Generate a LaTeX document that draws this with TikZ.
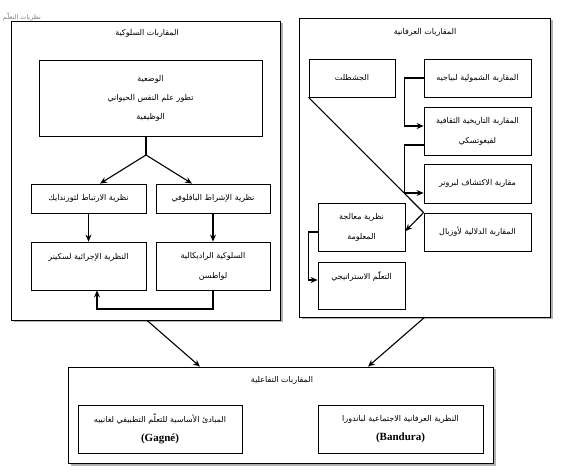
\documentclass[tikz,border=0pt]{standalone}
\usepackage{fontspec}
\newfontfamily\arabicfont[Script=Arabic]{DejaVu Sans}
\newfontfamily\latinfont{Liberation Serif}
\TeXXeTstate=1
\usetikzlibrary{arrows.meta,calc,shadows}
\newcommand{\artxt}[1]{{\arabicfont\beginR #1\endR}}
\newcommand{\lattxt}[1]{{\latinfont\bfseries\fontsize{11}{12}\selectfont #1}}

\begin{document}
\begin{tikzpicture}[x=1pt, y=-1pt,
  bigbox/.style={draw, fill=white, line width=0.8pt,
    drop shadow={shadow xshift=2.5pt, shadow yshift=-2.5pt, fill=gray!60, opacity=1}},
  box/.style={draw, fill=white, line width=0.8pt, align=center, inner sep=0pt,
    font=\fontsize{8}{20}\selectfont},
  ttl/.style={font=\fontsize{8}{9}\selectfont},
  arr/.style={-{Stealth[length=7pt,width=6pt]}, line width=1.1pt}]
\useasboundingbox (0,0) rectangle (574,476);
\node[font=\fontsize{6.5}{8}\selectfont, text=gray] (wm) at (22,17) {\artxt{نظريات التعلّم}};

% behaviourist approaches
\node[bigbox, minimum width=269pt, minimum height=299pt] (beh) at (145.5,170.5) {};
\node[ttl] (behttl) at (147,33) {\artxt{المقاربات السلوكية}};
\node[box, minimum width=223pt, minimum height=76pt, font=\fontsize{8}{19}\selectfont] (posit) at (150.5,98)
  {\artxt{الوضعية}\\ \artxt{تطور علم النفس الحيواني}\\ \artxt{الوظيفية}};
\node[box, minimum width=115pt, minimum height=29pt] (thorn) at (88.5,198.5) {\artxt{نظرية الارتباط لثورندايك}};
\node[box, minimum width=114pt, minimum height=29pt] (pavl) at (213,198.5) {\artxt{نظرية الإشراط البافلوفي}};
\node[box, minimum width=115pt, minimum height=48pt] (skin) at (88.5,266) {\artxt{النظرية الإجرائية لسكينر}\\ \mbox{}};
\node[box, minimum width=114pt, minimum height=48pt] (wats) at (213,266) {\artxt{السلوكية الراديكالية}\\ \artxt{لواطسن}};
\coordinate (split) at (146,155);
\coordinate (back) at (150,309);
\draw[line width=1.1pt] (posit.south -| split) -- (split);
\draw[arr] (split) -- ([xshift=11.5pt]thorn.north);
\draw[arr] (split) -- ([xshift=-21pt]pavl.north);
\draw[arr] (thorn.south) -- (skin.north);
\draw[arr] (pavl.south) -- (wats.north);
\draw[arr] (wats.south) |- (back) -| ([xshift=8.5pt]skin.south);

% cognitive approaches
\node[bigbox, minimum width=251pt, minimum height=299pt] (cog) at (424.5,167.5) {};
\node[ttl] (cogttl) at (425,32) {\artxt{المقاربات العرفانية}};
\node[box, minimum width=86pt, minimum height=38pt] (gest) at (352,78) {\artxt{الجشطلت}};
\node[box, minimum width=107pt, minimum height=38pt] (piag) at (477.5,78) {\artxt{المقاربة الشمولية لبياجيه}};
\node[box, minimum width=107pt, minimum height=48pt] (vygo) at (477.5,131) {\artxt{المقاربة التاريخية الثقافية}\\ \artxt{لفيغوتسكي}};
\node[box, minimum width=107pt, minimum height=39pt] (brun) at (477.5,183.5) {\artxt{مقاربة الاكتشاف لبرونر}};
\node[box, minimum width=107pt, minimum height=38pt] (ausu) at (477.5,232) {\artxt{المقاربة الدلالية لأوزبال}};
\node[box, minimum width=87pt, minimum height=48pt] (info) at (361.5,227) {\artxt{نظرية معالجة}\\ \artxt{المعلومة}};
\node[box, minimum width=87pt, minimum height=47pt] (strat) at (361.5,285.5) {\artxt{التعلّم الاستراتيجي}\\ \mbox{}};
\draw[arr] (piag.west) -- ++(-19,0) |- ([yshift=5pt]vygo.west);
\draw[arr] ([yshift=-14pt]vygo.west) -- ++(-19,0) |- ([yshift=-9.5pt]brun.west);
\draw[line width=1.1pt] (gest.south west) -- (ausu.north west);
\draw[arr] (ausu.north west) -- ([yshift=-4pt]info.east);
\draw[arr] ([yshift=-5pt]info.west) -- ++(-9,0) |- ([yshift=5.5pt]strat.west);

% interactive approaches
\node[bigbox, minimum width=425pt, minimum height=96pt] (inter) at (280.5,415) {};
\node[ttl] (interttl) at (282,380) {\artxt{المقاربات التفاعلية}};
\node[box, minimum width=164pt, minimum height=48pt, font=\fontsize{8}{19}\selectfont] (gagn) at (160,429)
  {\artxt{المبادئ الأساسية للتعلّم التطبيقي لغانييه}\\ \lattxt{(Gagné)}};
\node[box, minimum width=165pt, minimum height=48pt, font=\fontsize{8}{19}\selectfont] (band) at (400.5,429)
  {\artxt{النظرية العرفانية الاجتماعية لباندورا}\\ \lattxt{(Bandura)}};
\draw[arr] ([xshift=1.5pt]beh.south) -- ([xshift=-80.5pt]inter.north);
\draw[arr] (cog.south) -- ([xshift=87.5pt]inter.north);
\end{tikzpicture}
\end{document}
